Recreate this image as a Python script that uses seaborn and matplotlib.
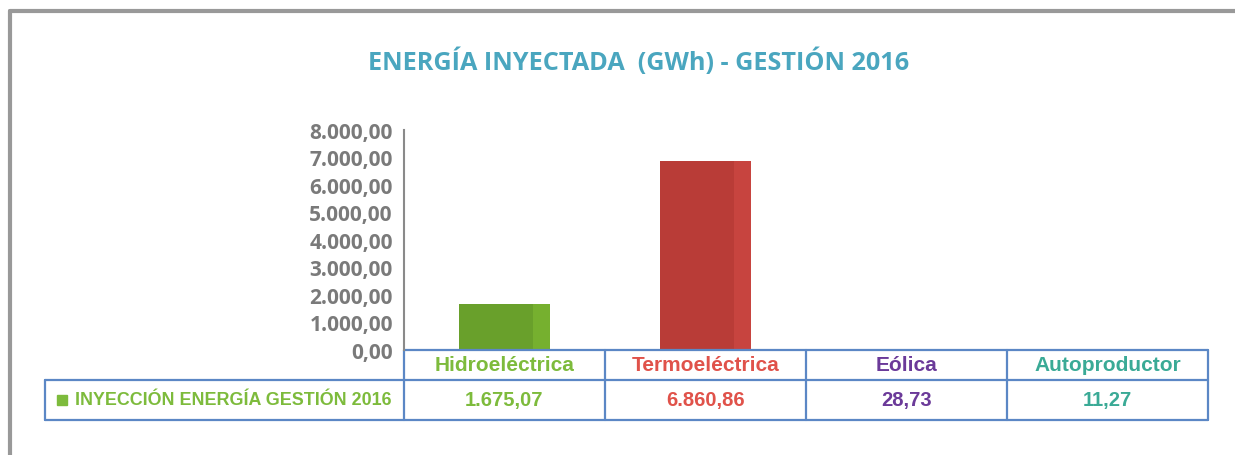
import matplotlib.pyplot as plt
import numpy as np
import pandas as pd
import seaborn as sns
from matplotlib.lines import Line2D
from matplotlib.patches import Rectangle
from matplotlib.ticker import FuncFormatter

# data
categories = ["Hidroeléctrica", "Termoeléctrica", "Eólica", "Autoproductor"]
energy_gwh = [1675.07, 6860.86, 28.73, 11.27]
series_label = "INYECCIÓN ENERGÍA GESTIÓN 2016"
title = "ENERGÍA INYECTADA  (GWh) - GESTIÓN 2016"

bar_colors = ["#69a02b", "#b93c37", "#6b3a99", "#3aa896"]
side_colors = ["#76b02f", "#c7443f", "#7b48ab", "#45b8a5"]
text_colors = ["#7dbb3c", "#e0524a", "#6b3a99", "#3aaa96"]
line_color = "#5b87c5"


def es_format(v, pos=None):
    s = f"{v:,.2f}"
    return s.replace(",", "X").replace(".", ",").replace("X", ".")


sns.set_style("white")
plt.rcParams["font.family"] = ["Liberation Sans", "DejaVu Sans"]

df = pd.DataFrame({"categoria": categories, "energia": energy_gwh})

fig = plt.figure(figsize=(12.35, 4.56), dpi=100)
ax = fig.add_axes([404 / 1235, 1 - 351 / 456, 804 / 1235, 220 / 456])

sns.barplot(
    data=df,
    x="categoria",
    y="energia",
    hue="categoria",
    palette=bar_colors,
    legend=False,
    width=0.45,
    saturation=1,
    linewidth=0,
    ax=ax,
)

# lighter side strip for a bit of depth
for patch, sc in zip(ax.patches, side_colors):
    x, w, h = patch.get_x(), patch.get_width(), patch.get_height()
    ax.add_patch(Rectangle((x + w * 0.82, 0), w * 0.18, h, color=sc, lw=0))

ax.set_xlim(-0.5, len(categories) - 0.5)
ax.set_ylim(0, 8000)
ax.set_yticks(np.arange(0, 8001, 1000))
ax.yaxis.set_major_formatter(FuncFormatter(es_format))
ax.tick_params(axis="y", length=0, pad=8, labelcolor="#7a7a7a")
for lbl in ax.get_yticklabels():
    lbl.set_fontfamily(["Open Sans", "DejaVu Sans"])
    lbl.set_fontweight("bold")
    lbl.set_fontsize(15)
ax.set_xticks([])
ax.set_xlabel("")
ax.set_ylabel("")
for side in ["top", "right", "bottom"]:
    ax.spines[side].set_visible(False)
ax.spines["left"].set_color("#8a8a8a")
ax.spines["left"].set_linewidth(1.5)

# data table below the axis
xt = ax.get_xaxis_transform()
row1, row2 = -30 / 220, -70 / 220
left_cell = (45 - 404) / 804
n = len(categories)
kw = dict(color=line_color, lw=1.6, clip_on=False)
ax.plot([-0.5, n - 0.5], [0, 0], transform=xt, **kw)
ax.plot([left_cell, 1], [row1, row1], transform=ax.transAxes, **kw)
ax.plot([left_cell, 1], [row2, row2], transform=ax.transAxes, **kw)
ax.plot([left_cell, left_cell], [row1, row2], transform=ax.transAxes, **kw)
for b in np.arange(n + 1) - 0.5:
    ax.plot([b, b], [0, row2], transform=xt, **kw)

for i, (cat, val, tc) in enumerate(zip(categories, energy_gwh, text_colors)):
    ax.text(i, row1 / 2, cat, transform=xt, ha="center", va="center",
            color=tc, fontsize=15, fontweight="bold")
    ax.text(i, (row1 + row2) / 2, es_format(val), transform=xt, ha="center",
            va="center", color=tc, fontsize=14.5, fontweight="bold")

ax.plot([left_cell + 0.021], [(row1 + row2) / 2], marker="s", ms=7.5,
        color=text_colors[0], transform=ax.transAxes, clip_on=False)
ax.text(left_cell + 0.037, (row1 + row2) / 2, series_label,
        transform=ax.transAxes, ha="left", va="center",
        color=text_colors[0], fontsize=12.9, fontweight="bold")

# title and outer frame
fig.text(639 / 1235, 1 - 62 / 456, title, ha="center", va="center",
         color="#4aa6bf", fontsize=18.2, fontweight="bold",
         family=["Open Sans", "DejaVu Sans"])
fig.add_artist(Line2D([10 / 1235, 1], [1 - 12 / 456, 1 - 12 / 456],
                      color="#999999", lw=3))
fig.add_artist(Line2D([10 / 1235, 10 / 1235], [0, 1 - 12 / 456],
                      color="#999999", lw=3))

fig.savefig("out.png", dpi=100, facecolor="white")
